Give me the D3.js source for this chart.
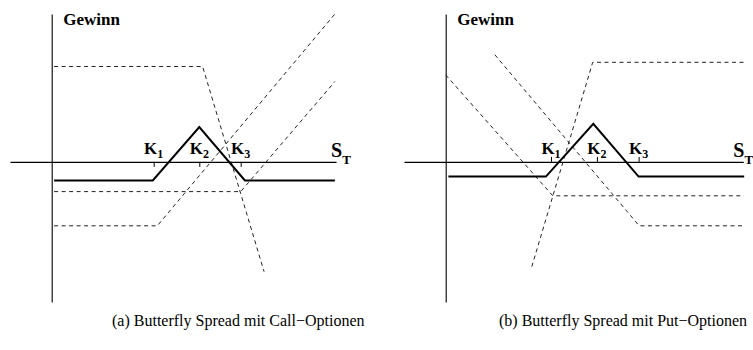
<!DOCTYPE html>
<html>
<head>
<meta charset="utf-8">
<script src="https://cdn.jsdelivr.net/npm/d3@7"></script>
<style>
  html, body { margin: 0; padding: 0; background: #fff; }
  svg { display: block; }
  text { font-family: "Liberation Serif", "Times New Roman", serif; fill: #000; }
</style>
</head>
<body>
<svg id="chart" width="753" height="350"></svg>
<script>
// Strike labels and positions on the S_T axis
const strikeNames = ["1", "2", "3"];
const callStrikes = [34, 49.2, 63];
const putStrikes = [35.1, 50.4, 64.3];

// Axis extents (S_T and Gewinn units)
const callXExtent = [-13.9, 94.8];
const putXExtent = [-13.9, 99.2];
const yExtent = [-46.7, 49.3];

// Butterfly spread with calls: net profit and the three legs
const callNet = [[0.8, -6.2], [33.7, -6.2], [49.2, 11.6], [64.4, -6.2], [94.4, -6.2]];
const callLongK1 = [[0.8, -21.3], [35.2, -21.3], [94.4, 49.3]];
const callLongK3 = [[0.8, -9.9], [63, -9.9], [94.4, 26.8]];
const callShortK2 = [[0.8, 31.8], [50.3, 31.8], [70.8, -36.6]];

// Butterfly spread with puts: net profit and the three legs
const putNet = [[0.9, -4.9], [33.4, -4.9], [49.2, 12.7], [64.3, -4.9], [99.5, -4.9]];
const putLongK1 = [[0, 29], [35.7, -11.3], [99.4, -11.3]];
const putLongK3 = [[16.4, 35.7], [64.5, -21.3], [99.4, -21.3]];
const putShortK2 = [[28.7, -34.9], [49, 33.2], [99.4, 33.2]];

const captions = ["(a) Butterfly Spread mit Call\u2212Optionen", "(b) Butterfly Spread mit Put\u2212Optionen"];

const svg = d3.select("#chart");
const unit = 3; // pixels per data unit

const panels = [
  { left: 10, xExtent: callXExtent, strikes: callStrikes, net: callNet,
    legs: [callLongK1, callLongK3, callShortK2], ticksUp: false,
    stShift: -5, caption: captions[0], captionX: 112 },
  { left: 404, xExtent: putXExtent, strikes: putStrikes, net: putNet,
    legs: [putLongK1, putLongK3, putShortK2], ticksUp: true,
    stShift: -10, caption: captions[1], captionX: 499 }
];

panels.forEach(p => {
  const x = d3.scaleLinear()
    .domain(p.xExtent)
    .range([p.left, p.left + (p.xExtent[1] - p.xExtent[0]) * unit]);
  const y = d3.scaleLinear()
    .domain(yExtent)
    .range([14 + (yExtent[1] - yExtent[0]) * unit, 14]);

  const g = svg.append("g");

  // S_T axis with strike ticks
  const xAxis = (p.ticksUp ? d3.axisTop(x) : d3.axisBottom(x))
    .tickValues(p.strikes)
    .tickFormat("")
    .tickSizeInner(5)
    .tickSizeOuter(0);
  const xg = g.append("g")
    .attr("transform", `translate(0,${y(0)})`)
    .call(xAxis);
  xg.select(".domain").attr("stroke", "#000").attr("stroke-width", 1.1);
  xg.selectAll(".tick line").attr("stroke", "#000").attr("stroke-width", 1);

  // Gewinn axis
  const yAxis = d3.axisLeft(y).tickValues([]).tickSizeOuter(0);
  const yg = g.append("g")
    .attr("transform", `translate(${x(0)},0)`)
    .call(yAxis);
  yg.select(".domain").attr("stroke", "#000").attr("stroke-width", 1.1);

  const line = d3.line().x(d => x(d[0])).y(d => y(d[1]));

  // Individual option positions
  g.selectAll("path.leg")
    .data(p.legs)
    .join("path")
    .attr("class", "leg")
    .attr("d", line)
    .attr("fill", "none")
    .attr("stroke", "#222")
    .attr("stroke-width", 1)
    .attr("stroke-dasharray", "4,3.5");

  // Combined butterfly profit
  g.append("path")
    .attr("d", line(p.net))
    .attr("fill", "none")
    .attr("stroke", "#000")
    .attr("stroke-width", 2)
    .attr("stroke-linejoin", "miter");

  // Strike labels K1, K2, K3
  const kl = g.selectAll("text.strike")
    .data(p.strikes)
    .join("text")
    .attr("class", "strike")
    .attr("x", d => x(d))
    .attr("y", y(0) - 8)
    .attr("text-anchor", "middle")
    .attr("font-weight", "bold")
    .attr("font-size", 17);
  kl.append("tspan").text("K");
  kl.append("tspan")
    .attr("font-size", 12)
    .attr("dy", 4)
    .text((d, i) => strikeNames[i]);

  // S_T label at the end of the axis
  const axisEnd = x(p.xExtent[1]);
  const st = g.append("text")
    .attr("x", axisEnd + p.stShift)
    .attr("y", y(0) - 5)
    .attr("font-weight", "bold")
    .attr("font-size", 20);
  st.append("tspan").text("S");
  st.append("tspan").attr("font-size", 13).attr("dx", 0).attr("dy", 7).text("T");

  // Gewinn label beside the vertical axis
  g.append("text")
    .attr("x", x(0) + 11.5)
    .attr("y", 25)
    .attr("font-weight", "bold")
    .attr("font-size", 17)
    .text("Gewinn");

  // Caption
  g.append("text")
    .attr("x", p.captionX)
    .attr("y", 326)
    .attr("font-size", 16)
    .text(p.caption);
});
</script>
</body>
</html>
